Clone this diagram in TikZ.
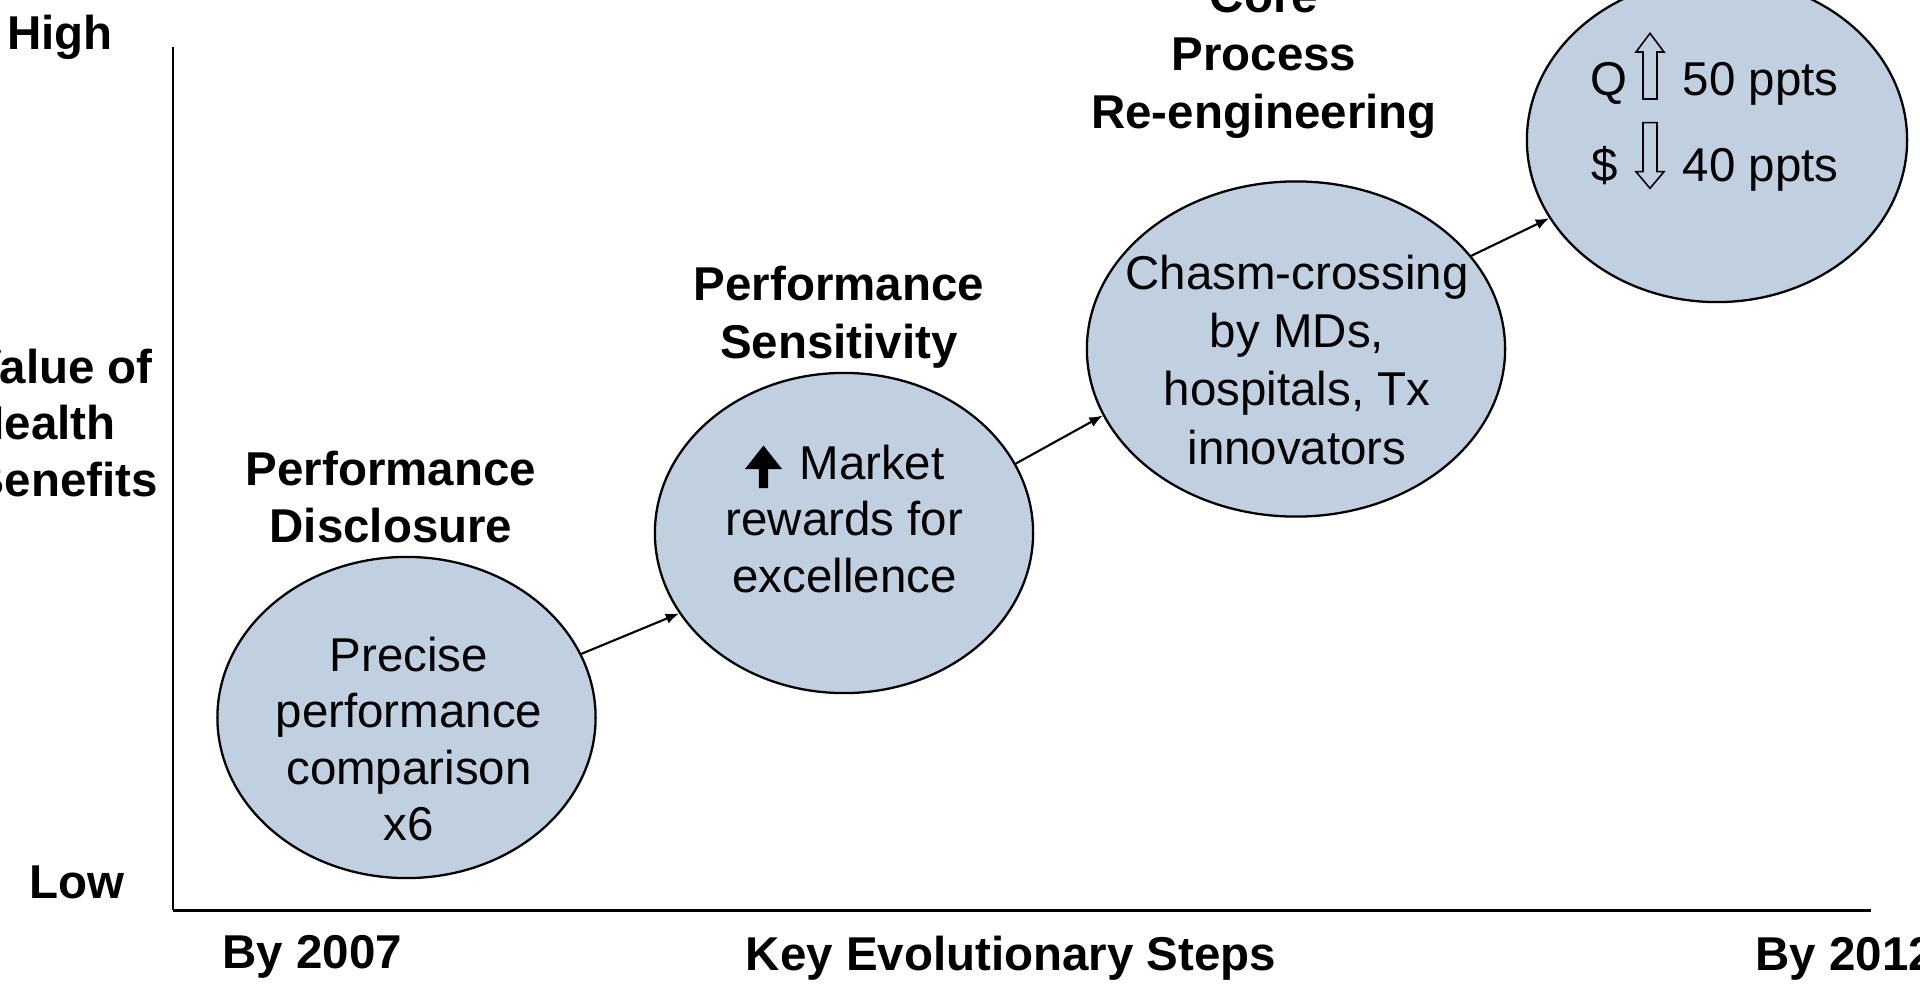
\documentclass[tikz,border=0pt]{standalone}
\usepackage{fontspec}
\setmainfont{Liberation Sans}
\usetikzlibrary{arrows.meta, shapes.geometric}

\definecolor{ovalfill}{RGB}{193,208,224}

\begin{document}
\begin{tikzpicture}[
  x=0.01cm, y=-0.01cm,
  font=\fontsize{13.5}{16}\selectfont,
  oval/.style={ellipse, draw, line width=0.65pt, fill=ovalfill, inner sep=0pt},
  txt/.style={align=center, inner sep=0pt},
  head/.style={align=center, inner sep=0pt, font=\fontsize{13.5}{16.4}\selectfont\bfseries},
  axislbl/.style={inner sep=0pt, font=\fontsize{13.5}{16}\selectfont\bfseries},
  arr/.style={-{Latex[length=3.8pt,width=3pt]}, line width=0.6pt},
  hollow/.style={draw, line width=0.45pt, line join=miter}
]
\useasboundingbox (0,0) rectangle (1920,984);
\clip (0,0) rectangle (1920,984);

% axes
\coordinate (ytop) at (172.7,46.5);
\coordinate (orig) at (172.7,910);
\coordinate (xend) at (1871,910);
\draw[line width=0.6pt] (ytop) -- (orig);
\draw[line width=0.85pt] (orig) -- (xend);

\node[axislbl, anchor=base west] (high) at (6.7,49.3) {High};
\node[axislbl, anchor=west, align=left] (value) at (-30,423) {Value of\\Health\\Benefits};
\node[axislbl, anchor=base west] (low) at (29,898) {Low};
\node[axislbl, anchor=base west] (by07) at (222,968) {By 2007};
\node[axislbl, anchor=base] (steps) at (1011,970) {Key Evolutionary Steps};
\node[axislbl, anchor=base west] (by12) at (1755,970) {By 2012};

% stages
\node[oval, minimum width=3.78cm, minimum height=3.21cm] (disc) at (406.5,717.5) {};
\node[oval, minimum width=3.78cm, minimum height=3.20cm] (sens) at (844,533) {};
\node[oval, minimum width=4.18cm, minimum height=3.35cm] (core) at (1296,349) {};
\node[oval, minimum width=3.80cm, minimum height=3.24cm] (gain) at (1717,140) {};

\node[txt] (discTxt) at (409,739) {Precise\\performance\\comparison\\x6};
\node[txt] (sensTxt) at (844.5,519) {\hspace*{0.55cm}Market\\rewards for\\excellence};
\node[txt, font=\fontsize{13.5}{16.5}\selectfont] (coreTxt) at (1297,360) {Chasm-crossing\\by MDs,\\hospitals, Tx\\innovators};

\node[head] (discHead) at (391,497) {Performance\\Disclosure};
\node[head] (sensHead) at (839,317) {Performance\\Sensitivity};
\node[head] (coreHead) at (1264,59) {Core\\Process\\Re-engineering};

% market arrow
\fill (763.5,445.5) -- (782,469) -- (768.2,469) -- (768.2,488) -- (758.8,488)
  -- (758.8,469) -- (745,469) -- cycle;

% result
\node[txt, anchor=base west] (qLbl) at (1590,95) {Q};
\node[txt, anchor=base west] (qVal) at (1682,95) {50 ppts};
\node[txt, anchor=base west] (cLbl) at (1591,181.7) {\$};
\node[txt, anchor=base west] (cVal) at (1682,181.7) {40 ppts};
\path[hollow] (1643,99) -- (1643,52) -- (1636,52) -- (1650,33.3) -- (1664,52)
  -- (1657,52) -- (1657,99) -- cycle;
\path[hollow] (1643,122.7) -- (1643,171.7) -- (1636,171.7) -- (1650,188.3)
  -- (1664,171.7) -- (1657,171.7) -- (1657,122.7) -- cycle;

\draw[arr] (disc.20) -- (sens.206);
\draw[arr] (sens.22) -- (core.199);
\draw[arr] (core.28) -- (gain.205);
\end{tikzpicture}
\end{document}
